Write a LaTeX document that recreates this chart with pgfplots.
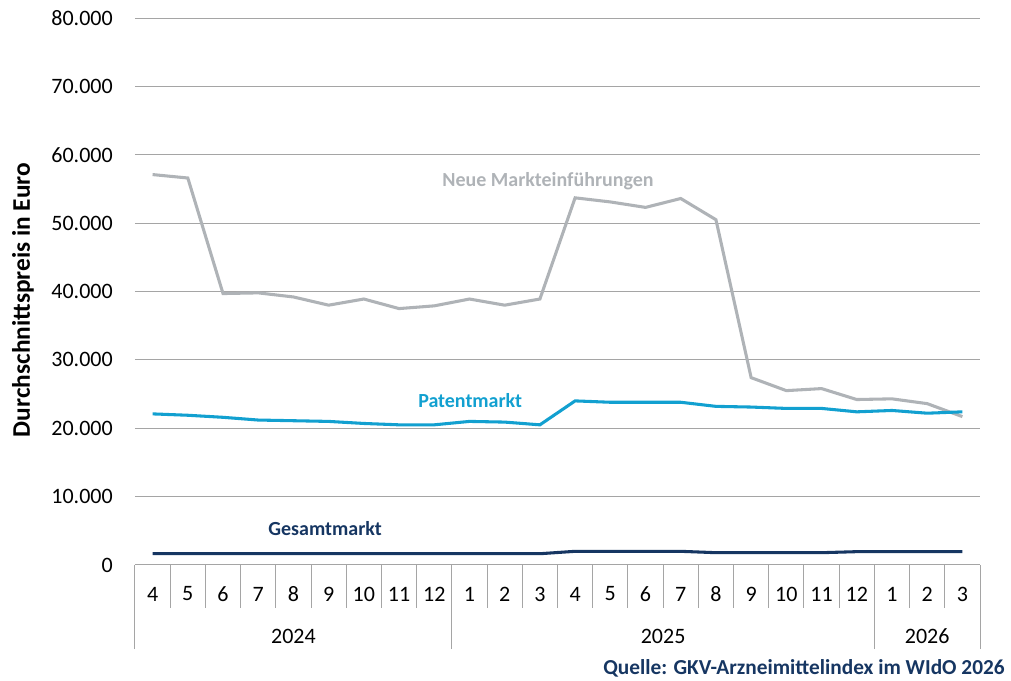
\documentclass[border=0pt]{standalone}
\usepackage{fontspec}
\setmainfont{Carlito}
\usepackage{pgfplots}
\pgfplotsset{compat=1.18}
\definecolor{neuegrey}{RGB}{175,179,183}
\definecolor{patblue}{RGB}{18,160,208}
\definecolor{navy}{RGB}{22,54,98}
\definecolor{gridgrey}{RGB}{165,165,165}
\begin{document}
\begin{tikzpicture}
\useasboundingbox (0,0) rectangle (758.25pt,510.75pt);
\begin{axis}[
  at={(101.25pt,87pt)}, anchor=south west,
  scale only axis, width=633.75pt, height=410.25pt,
  xmin=-0.5, xmax=23.5, ymin=0, ymax=80000,
  xtick={0,...,23},
  xticklabels={4,5,6,7,8,9,10,11,12,1,2,3,4,5,6,7,8,9,10,11,12,1,2,3},
  minor xtick={-0.5,0.5,...,23.5},
  extra x ticks={-0.5,8.5,20.5,23.5},
  extra x tick labels={},
  extra x tick style={major tick length=63pt, grid=none},
  major tick length=0pt, minor tick length=32pt,
  tick align=outside,
  xtick pos=bottom, ytick pos=left,
  tick style={gridgrey, line width=0.75pt},
  ytick={0,10000,...,80000},
  ymajorgrids, grid style={gridgrey, line width=0.75pt},
  axis line style={draw=none},
  scaled y ticks=false,
  /pgf/number format/.cd, fixed, 1000 sep={.}, assume math mode=true,
  /pgfplots/.cd,
  ticklabel style={font=\fontsize{16.5}{19}\selectfont, text=black},
  yticklabel style={anchor=east, inner sep=0pt, xshift=-16.5pt},
  xticklabel style={anchor=center, inner sep=0pt, yshift=-21.75pt},
  clip=false,
]
\addplot[neuegrey, line width=2.3pt] coordinates {
(0,57100) (1,56600) (2,39700) (3,39800) (4,39200) (5,38000) (6,38900) (7,37500)
(8,37900) (9,38900) (10,38000) (11,38900) (12,53700) (13,53100) (14,52300) (15,53600)
(16,50500) (17,27400) (18,25500) (19,25800) (20,24200) (21,24300) (22,23600) (23,21700)};
\addplot[patblue, line width=2.3pt] coordinates {
(0,22100) (1,21900) (2,21600) (3,21200) (4,21100) (5,21000) (6,20700) (7,20500)
(8,20500) (9,21000) (10,20900) (11,20500) (12,24000) (13,23800) (14,23800) (15,23800)
(16,23200) (17,23100) (18,22900) (19,22900) (20,22400) (21,22600) (22,22200) (23,22400)};
\addplot[navy, line width=2.3pt] coordinates {
(0,1650) (1,1650) (2,1650) (3,1650) (4,1650) (5,1650) (6,1650) (7,1650)
(8,1650) (9,1650) (10,1650) (11,1650) (12,2000) (13,2000) (14,2000) (15,2000)
(16,1800) (17,1800) (18,1800) (19,1800) (20,1950) (21,1950) (22,1950) (23,1950)};
\node[font=\bfseries\fontsize{15}{17}\selectfont, text=neuegrey] at (axis cs:11.23,56140) {Neue Markteinführungen};
\node[font=\bfseries\fontsize{15}{17}\selectfont, text=patblue] at (axis cs:9.02,24120) {Patentmarkt};
\node[font=\bfseries\fontsize{15}{17}\selectfont, text=navy] at (axis cs:4.9,5260) {Gesamtmarkt};
\node[font=\fontsize{16.5}{19}\selectfont, inner sep=0pt] at (axis cs:4,0) [yshift=-53.6pt] {2024};
\node[font=\fontsize{16.5}{19}\selectfont, inner sep=0pt] at (axis cs:14.5,0) [yshift=-53.6pt] {2025};
\node[font=\fontsize{16.5}{19}\selectfont, inner sep=0pt] at (axis cs:22,0) [yshift=-53.6pt] {2026};
\end{axis}
\node[rotate=90, font=\bfseries\fontsize{19}{22}\selectfont] at (17.25pt,285.75pt) {Durchschnittspreis in Euro};
\node[anchor=east, inner sep=0pt, font=\bfseries\fontsize{16}{18}\selectfont, text=navy] at (753.75pt,9.75pt) {Quelle: GKV-Arzneimittelindex im WIdO 2026};
\end{tikzpicture}
\end{document}
